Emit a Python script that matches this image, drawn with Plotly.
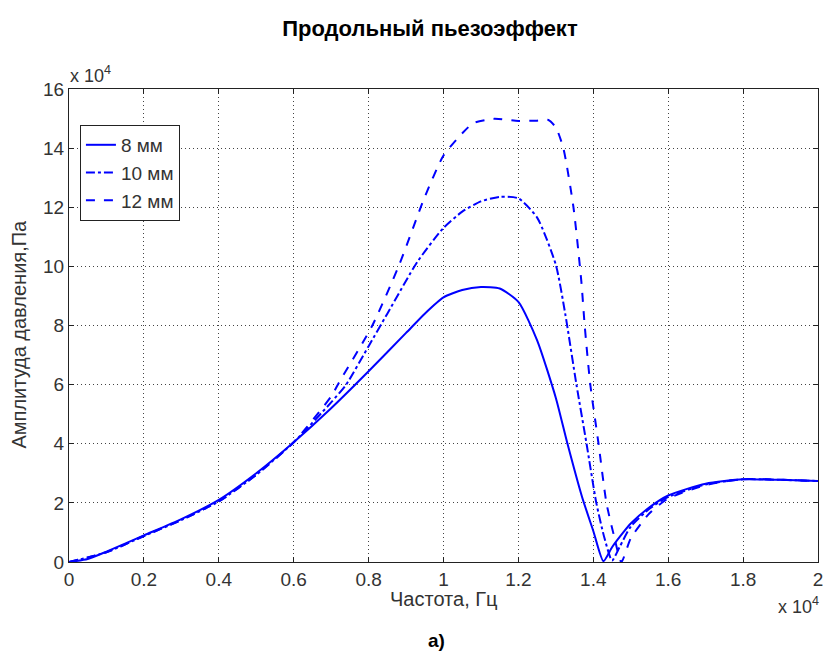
import plotly.graph_objects as go

# Frequency in units of 10^4 Hz, amplitude in units of 10^4 Pa
freq_8 = [0, 0.05, 0.1, 0.2, 0.3, 0.4, 0.5, 0.6, 0.7, 0.8, 0.9, 0.95, 1.0, 1.05, 1.1, 1.15, 1.2,
          1.25, 1.3, 1.33, 1.37, 1.40, 1.427, 1.45, 1.48, 1.5, 1.55, 1.6, 1.7, 1.8, 1.9, 2.0]
amp_8 = [0, 0.1, 0.35, 0.9, 1.45, 2.1, 3.0, 4.05, 5.2, 6.45, 7.75, 8.4, 8.95, 9.2, 9.3, 9.25, 8.8,
         7.5, 5.55, 4.05, 2.2, 1.05, 0.03, 0.5, 1.0, 1.3, 1.85, 2.25, 2.65, 2.8, 2.78, 2.74]

freq_10 = [0, 0.1, 0.2, 0.3, 0.4, 0.5, 0.6, 0.7, 0.74, 0.8, 0.85, 0.93, 1.0, 1.05, 1.1, 1.15,
           1.2, 1.25, 1.3, 1.325, 1.355, 1.382, 1.408, 1.43, 1.45, 1.47, 1.5, 1.55, 1.6, 1.7,
           1.8, 1.9, 2.0]
amp_10 = [0, 0.33, 0.88, 1.42, 2.05, 2.95, 4.05, 5.4, 6.0, 7.3, 8.4, 10.15, 11.3, 11.85, 12.2,
          12.35, 12.3, 11.65, 10.05, 8.4, 6.0, 4.0, 2.0, 0.8, 0.05, 0.5, 1.2, 1.8, 2.2, 2.62,
          2.8, 2.78, 2.74]

freq_12 = [0, 0.1, 0.2, 0.3, 0.4, 0.5, 0.6, 0.7, 0.72, 0.81, 0.88, 0.95, 1.0, 1.05, 1.08,
           1.135, 1.2, 1.25, 1.28, 1.3, 1.32, 1.347, 1.368, 1.377, 1.392, 1.414, 1.435, 1.455,
           1.475, 1.5, 1.55, 1.6, 1.7, 1.8, 1.9, 2.0]
amp_12 = [0, 0.33, 0.88, 1.42, 2.05, 2.95, 4.05, 5.6, 6.05, 8.0, 10.0, 12.35, 13.75, 14.5,
          14.85, 14.99, 14.92, 14.93, 14.95, 14.7, 14.0, 12.0, 9.5, 8.0, 6.0, 4.0, 2.0, 0.9,
          0.0, 0.8, 1.65, 2.15, 2.6, 2.8, 2.78, 2.74]

series_names = ["8 мм", "10 мм", "12 мм"]
x_ticks = [0, 0.2, 0.4, 0.6, 0.8, 1, 1.2, 1.4, 1.6, 1.8, 2]
x_tick_labels = ["0", "0.2", "0.4", "0.6", "0.8", "1", "1.2", "1.4", "1.6", "1.8", "2"]
y_ticks = [0, 2, 4, 6, 8, 10, 12, 14, 16]
y_tick_labels = ["0", "2", "4", "6", "8", "10", "12", "14", "16"]

FONT = "Arial, Liberation Sans, sans-serif"
BLUE = "#0000ff"
TXT = "#333"

fig = go.Figure()
for name, xs, ys, dash in [
    (series_names[0], freq_8, amp_8, "solid"),
    (series_names[1], freq_10, amp_10, "dashdot"),
    (series_names[2], freq_12, amp_12, "dash"),
]:
    fig.add_trace(go.Scatter(
        x=xs, y=ys, mode="lines", name=name,
        line=dict(color=BLUE, width=2, dash=dash, shape="spline", smoothing=0.6),
    ))

axis_common = dict(
    showline=True, linecolor="#222", linewidth=1, mirror="ticks",
    ticks="inside", ticklen=5, tickcolor="#222",
    showgrid=True, gridcolor="#444", griddash="1px,3px", gridwidth=1,
    zeroline=False, tickfont=dict(family=FONT, size=19, color=TXT),
)

fig.update_xaxes(range=[0, 2], tickvals=x_ticks, ticktext=x_tick_labels, **axis_common)
fig.update_yaxes(range=[0, 16], tickvals=y_ticks, ticktext=y_tick_labels, **axis_common)

fig.update_layout(
    width=830, height=664,
    margin=dict(l=69, r=7, t=89, b=102),
    paper_bgcolor="white", plot_bgcolor="white",
    title=dict(text="<b>Продольный пьезоэффект</b>", x=0.518, xanchor="center",
               y=1 - 28 / 664, yanchor="middle",
               font=dict(family=FONT, size=22, color="#000")),
    legend=dict(x=0.0146, y=0.924, xanchor="left", yanchor="top",
                bgcolor="white", bordercolor="#222", borderwidth=1,
                font=dict(family=FONT, size=19, color=TXT)),
    showlegend=True,
    annotations=[
        dict(text="Частота, Гц", xref="paper", yref="paper", x=0.5, y=0, yshift=-37,
             xanchor="center", yanchor="middle", showarrow=False,
             font=dict(family=FONT, size=20, color=TXT)),
        dict(text="Амплитуда давления,Па", xref="paper", yref="paper", x=0, xshift=-51,
             y=0.5, yshift=-9, xanchor="center", yanchor="middle", textangle=-90, showarrow=False,
             font=dict(family=FONT, size=20, color=TXT)),
        dict(text="x 10<sup>4</sup>", xref="paper", yref="paper", x=0, xshift=-1, y=1, yshift=1,
             xanchor="left", yanchor="bottom", showarrow=False,
             font=dict(family=FONT, size=18, color=TXT)),
        dict(text="x 10<sup>4</sup>", xref="paper", yref="paper", x=1, xshift=3, y=0, yshift=-30,
             xanchor="right", yanchor="top", showarrow=False,
             font=dict(family=FONT, size=18, color=TXT)),
        dict(text="<b>а)</b>", xref="paper", yref="paper", x=0.49, y=0, yshift=-78,
             xanchor="center", yanchor="middle", showarrow=False,
             font=dict(family=FONT, size=19, color="#000")),
    ],
)

fig.write_html("out.html")
